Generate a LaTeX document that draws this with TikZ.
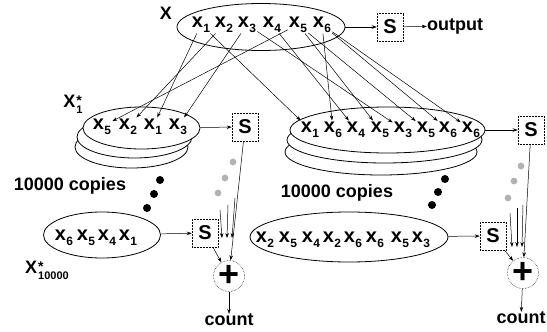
\documentclass[tikz,border=0pt]{standalone}
\usepackage{fontspec}
\setmainfont{Liberation Sans}
\usetikzlibrary{arrows.meta,shapes.geometric}
\newcommand{\xv}[1]{x\kern0.5pt\raisebox{-5pt}{\fontsize{12}{12}\selectfont #1}}
\newcommand{\starsub}[1]{\kern1pt\raisebox{-1pt}{\fontsize{11}{11}\selectfont\begin{tabular}[c]{@{}l@{}}\fontsize{14}{14}\selectfont *\\[-3pt]#1\end{tabular}}}
\begin{document}
\begin{tikzpicture}[x=1pt,y=-1pt,
  font=\bfseries\fontsize{18}{18}\selectfont,
  ell/.style={draw, ellipse, inner sep=0pt, line width=0.8pt, fill=white},
  sbox/.style={draw, densely dotted, line width=0.5pt, minimum width=26pt, minimum height=28pt, inner sep=0pt, font=\bfseries\fontsize{20}{20}\selectfont},
  plusc/.style={draw, circle, densely dotted, line width=0.5pt, minimum size=31pt, inner sep=0pt, font=\bfseries\fontsize{36}{36}\selectfont},
  lt/.style={inner sep=1pt, font=\bfseries\fontsize{20}{20}\selectfont},
  lbl/.style={inner sep=0pt},
  arr/.style={-{Stealth[length=5pt,width=3.5pt]}, line width=0.5pt},
  gdot/.style={fill=gray!60},
  bdot/.style={fill=black}]
\useasboundingbox (0,0) rectangle (547,332);

% ellipses
\node[ell, minimum width=168pt, minimum height=47pt] (eT) at (261,27) {};
\node[ell, minimum width=113pt, minimum height=42pt] (eL1c) at (131.5,147) {};
\node[ell, minimum width=115pt, minimum height=42pt] (eL1b) at (134.5,137) {};
\node[ell, minimum width=117pt, minimum height=42pt] (eL1) at (141.5,128) {};
\node[ell, minimum width=192pt, minimum height=46pt] (eR1c) at (381,152) {};
\node[ell, minimum width=195pt, minimum height=46pt] (eR1b) at (384.5,140) {};
\node[ell, minimum width=195pt, minimum height=46pt] (eR1) at (387.5,130) {};
\node[ell, minimum width=117pt, minimum height=46pt] (eL2) at (102,235) {};
\node[ell, minimum width=198pt, minimum height=50pt] (eR2) at (349,237) {};

% top letters
\foreach \n/\x in {1/201,2/224,3/247,4/272,5/298,6/322}
  \node[lt] (t\n) at (\x,24.5) {\xv{\n}};
% left sample
\foreach \i/\n/\x in {1/5/102,2/2/128,3/1/153,4/3/178}
  \node[lt] (a\i) at (\x,126.5) {\xv{\n}};
% right sample
\foreach \i/\n/\x in {1/1/310,2/6/333,3/4/356,4/5/380,5/3/403,6/5/426,7/6/448,8/6/471}
  \node[lt] (b\i) at (\x,129.5) {\xv{\n}};
% bottom-left sample
\foreach \i/\n/\x in {1/6/64,2/5/86,3/4/107,4/1/128}
  \node[lt] (c\i) at (\x,237.5) {\xv{\n}};
% bottom-right sample
\foreach \i/\n/\x in {1/2/265,2/5/288,3/4/311,4/2/332,5/6/353,6/6/375,7/5/400,8/3/421}
  \node[lt] (d\i) at (\x,240) {\xv{\n}};

% labels
\node[lbl] (lX) at (166,13) {X};
\node[lbl] (lX1) at (73,106) {X\starsub{1}};
\node[lbl] (lXn) at (47,272) {X\starsub{10000}};
\node[lbl] (cpL) at (70,186) {10000 copies};
\node[lbl] (cpR) at (337,193) {10000 copies};
\node[lbl] (out) at (455,26) {output};

% S boxes
\node[sbox] (sT) at (390,27) {S};
\node[sbox] (sL1) at (245,127) {S};
\node[sbox] (sR1) at (531,130) {S};
\node[sbox] (sL2) at (205,233) {S};
\node[sbox] (sR2) at (493,236) {S};

% plus circles and counts
\node[plusc] (pL) at (229,276) {+};
\node[plusc] (pR) at (523,273) {+};
\node[lbl] (cL) at (229,320) {count};
\node[lbl] (cR) at (521,318) {count};

% resampling arrows
\draw[arr] (t5) -- (a1);
\draw[arr] (t2) -- (a2);
\draw[arr] (t1) -- (a3);
\draw[arr] (t3) -- (a4);
\draw[arr] (t1) -- (b1);
\draw[arr] (t6) -- (b2);
\draw[arr] (t4) -- (b3);
\draw[arr] (t5) -- (b4);
\draw[arr] (t3) -- (b5);
\draw[arr] (t5) -- (b6);
\draw[arr] (t6) -- (b7);
\draw[arr] (t6) -- (b8);

% ellipse to S
\draw[arr] (eT) -- (sT);
\draw[arr] (sT) -- (out);
\draw[arr] (eL1) -- (sL1);
\draw[arr] (eR1) -- (sR1);
\draw[arr] (eL2) -- (sL2);
\draw[arr] (eR2) -- (sR2);

% S to plus
\draw[arr] (sL1) -- (pL);
\draw[arr] (sL2) -- (pL);
\draw[arr] (pL) -- (cL);
\draw[arr] (sR1) -- (pR);
\draw[arr] (sR2) -- (pR);
\draw[arr] (pR) -- (cR);

% short arrows from the copies
\coordinate (lA1) at (220,210); \coordinate (lB1) at (222,238);
\coordinate (lA2) at (228,205); \coordinate (lB2) at (227,238);
\coordinate (lA3) at (235,198); \coordinate (lB3) at (232,238);
\draw[arr] (lA1) -- (lB1);
\draw[arr] (lA2) -- (lB2);
\draw[arr] (lA3) -- (lB3);
\coordinate (rA1) at (510,213); \coordinate (rB1) at (512,247);
\coordinate (rA2) at (517,208); \coordinate (rB2) at (517,247);
\coordinate (rA3) at (523,205); \coordinate (rB3) at (522,247);
\draw[arr] (rA1) -- (rB1);
\draw[arr] (rA2) -- (rB2);
\draw[arr] (rA3) -- (rB3);

% dots
\fill[bdot] (160,180) circle (4);
\fill[bdot] (154,194) circle (4);
\fill[bdot] (147,208) circle (4);
\fill[bdot] (445,179) circle (4);
\fill[bdot] (438,192) circle (4);
\fill[bdot] (432,205) circle (4);
\fill[gdot] (233,162) circle (3.4);
\fill[gdot] (225,178) circle (3.4);
\fill[gdot] (218,193) circle (3.4);
\fill[gdot] (521,166) circle (3.4);
\fill[gdot] (514,181) circle (3.4);
\fill[gdot] (508,198) circle (3.4);
\end{tikzpicture}
\end{document}
